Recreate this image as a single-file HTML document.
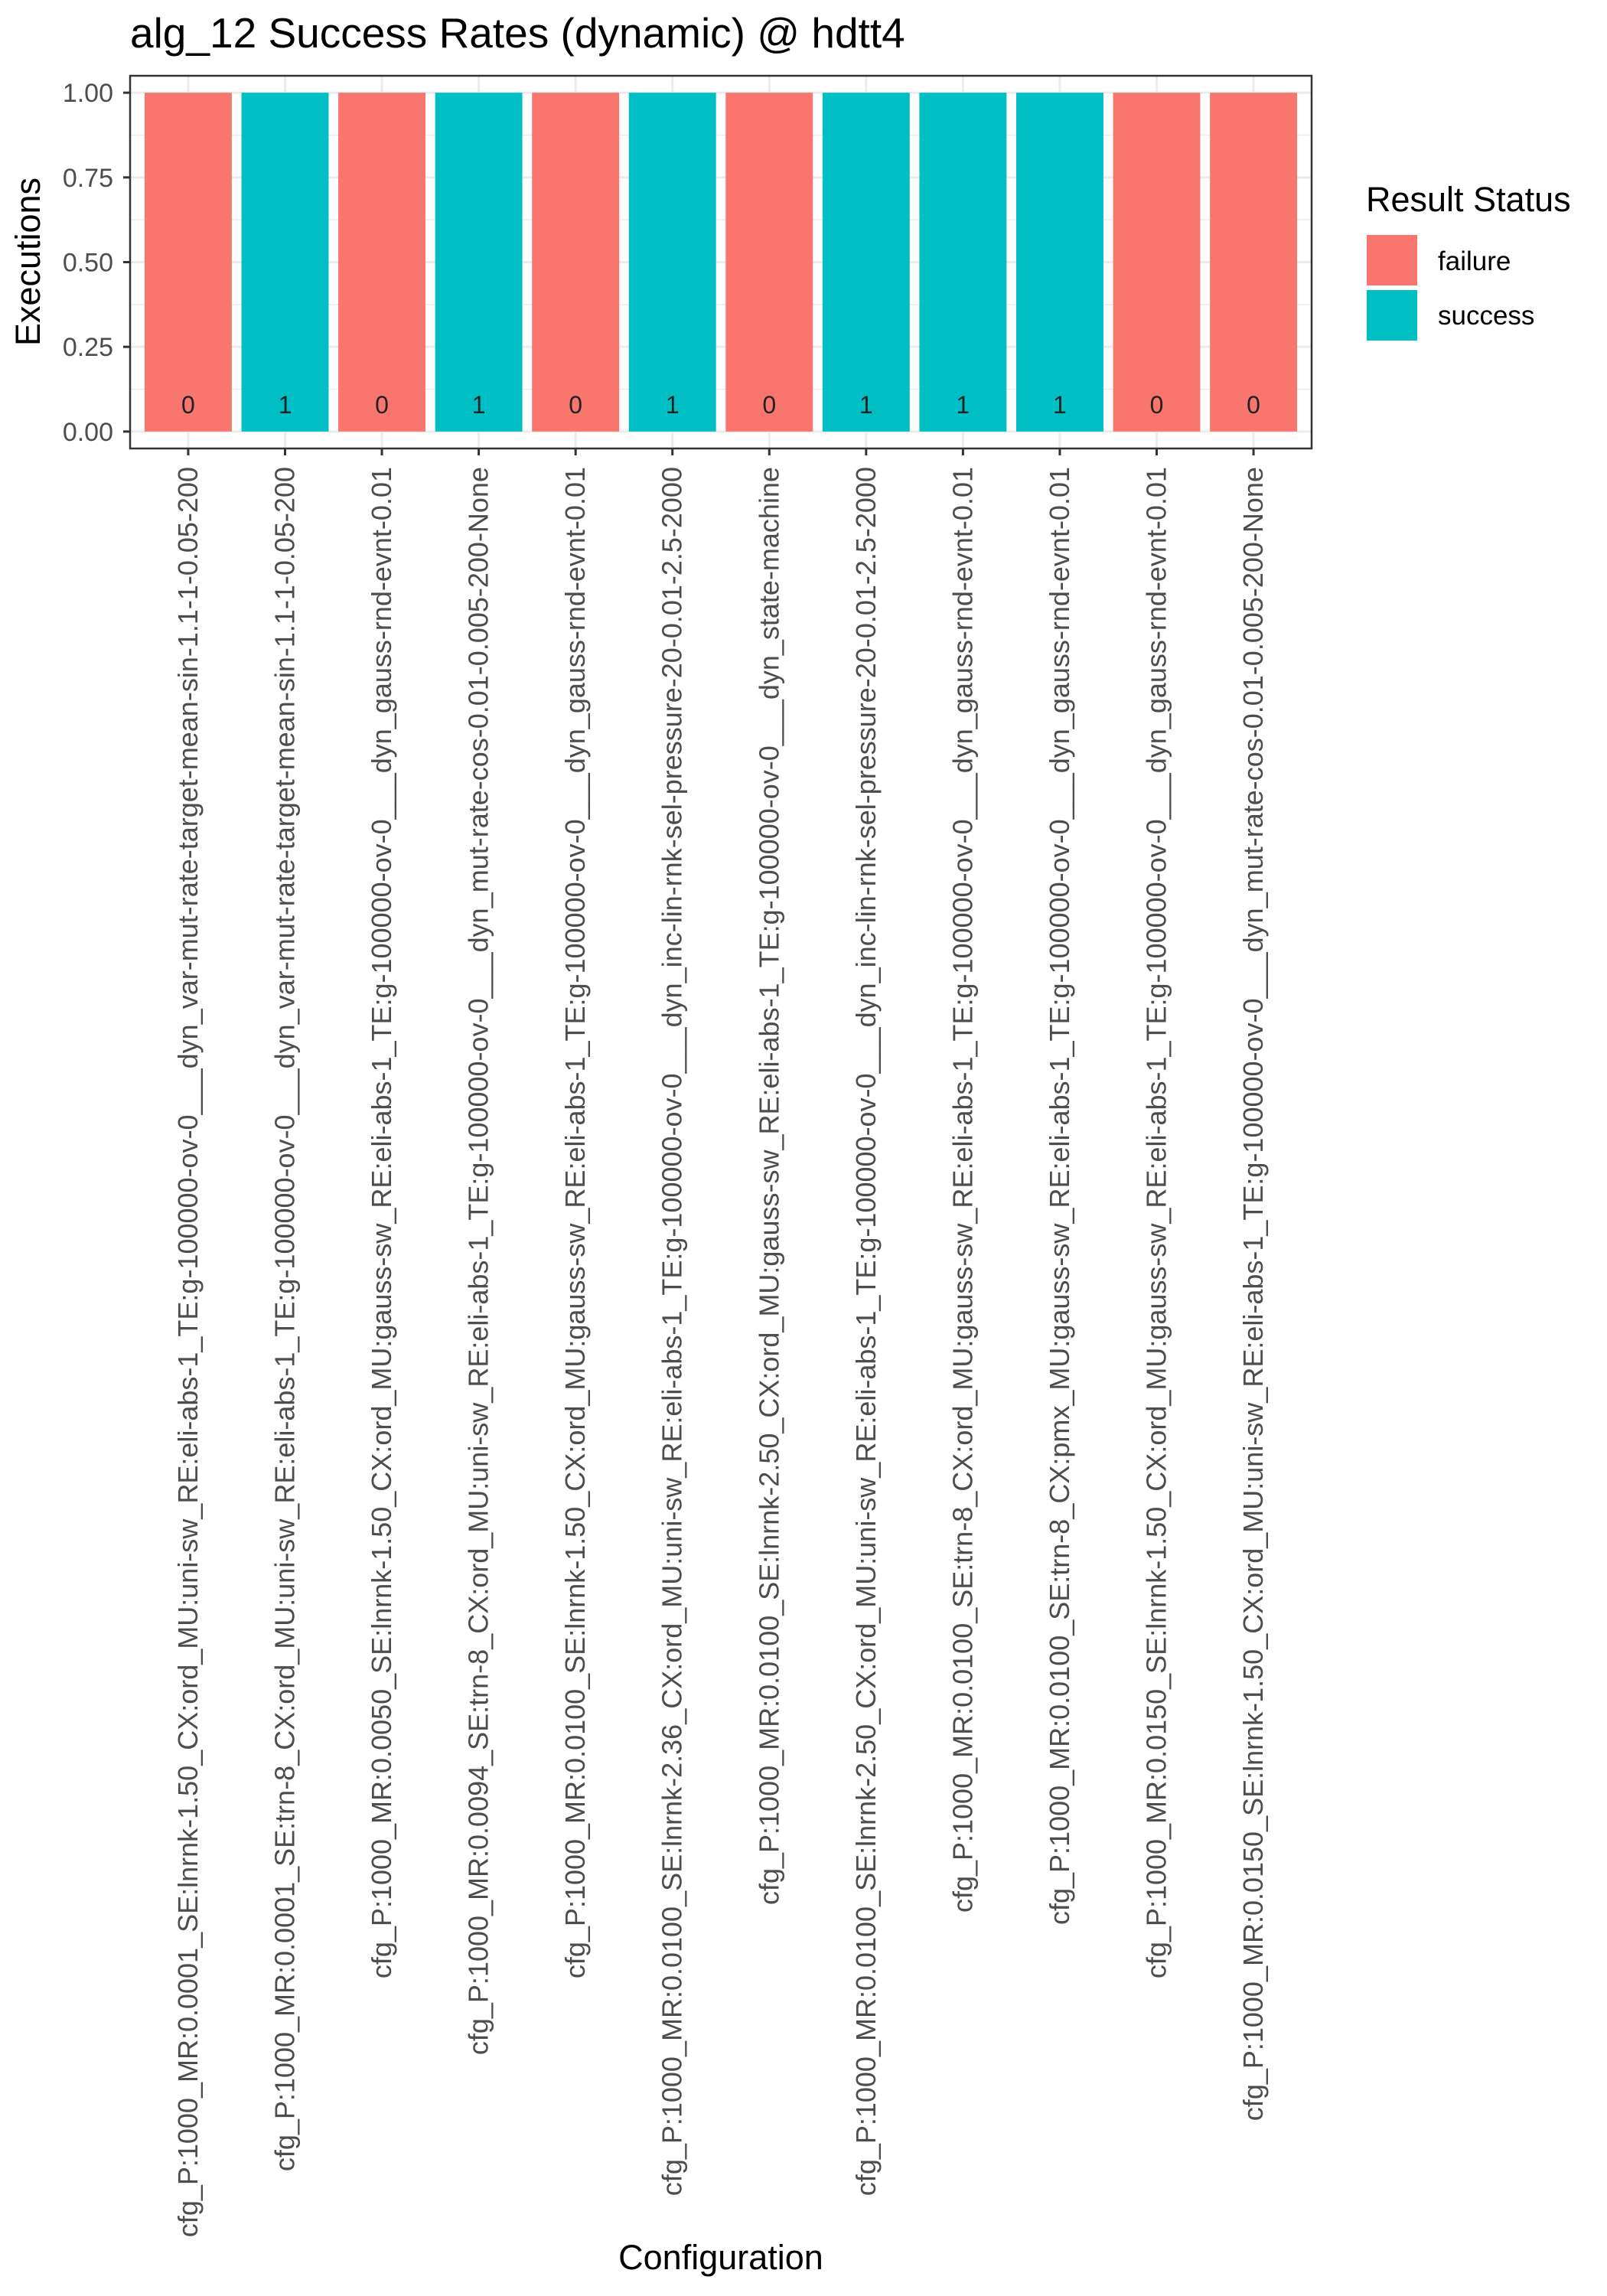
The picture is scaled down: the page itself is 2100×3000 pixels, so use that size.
<!DOCTYPE html>
<html><head><meta charset="utf-8"><style>
html,body{margin:0;padding:0;background:#fff;}
svg{display:block;font-family:"Liberation Sans",Arial,sans-serif;}
</style></head><body>
<svg id="chart" width="2100" height="3000" viewBox="0 0 2100 3000">
<rect x="0" y="0" width="2100" height="3000" fill="#fff"/>
<text x="170" y="62" font-size="55" fill="#000">alg_12 Success Rates (dynamic) @ hdtt4</text>
<g id="grid"></g>
<g id="bars"></g>
<g id="labels"></g>
<rect x="170" y="99" width="1544" height="487" fill="none" stroke="#333" stroke-width="2.5"/>
<g id="yaxis"></g>
<g id="xaxis"></g>
<text transform="translate(52,342) rotate(-90)" text-anchor="middle" font-size="45" fill="#000">Executions</text>
<text x="942" y="2965" text-anchor="middle" font-size="45" fill="#000">Configuration</text>
<g>
<text x="1785" y="276" font-size="45" fill="#000">Result Status</text>
<rect x="1786" y="307" width="66" height="66" fill="#F8766D"/>
<text x="1879" y="353" font-size="35" fill="#000">failure</text>
<rect x="1786" y="379" width="66" height="66" fill="#00BFC4"/>
<text x="1879" y="424" font-size="35" fill="#000">success</text>
</g>
</svg>
<script>
const categories = [
"cfg_P:1000_MR:0.0001_SE:lnrnk-1.50_CX:ord_MU:uni-sw_RE:eli-abs-1_TE:g-100000-ov-0___dyn_var-mut-rate-target-mean-sin-1.1-1-0.05-200",
"cfg_P:1000_MR:0.0001_SE:trn-8_CX:ord_MU:uni-sw_RE:eli-abs-1_TE:g-100000-ov-0___dyn_var-mut-rate-target-mean-sin-1.1-1-0.05-200",
"cfg_P:1000_MR:0.0050_SE:lnrnk-1.50_CX:ord_MU:gauss-sw_RE:eli-abs-1_TE:g-100000-ov-0___dyn_gauss-rnd-evnt-0.01",
"cfg_P:1000_MR:0.0094_SE:trn-8_CX:ord_MU:uni-sw_RE:eli-abs-1_TE:g-100000-ov-0___dyn_mut-rate-cos-0.01-0.005-200-None",
"cfg_P:1000_MR:0.0100_SE:lnrnk-1.50_CX:ord_MU:gauss-sw_RE:eli-abs-1_TE:g-100000-ov-0___dyn_gauss-rnd-evnt-0.01",
"cfg_P:1000_MR:0.0100_SE:lnrnk-2.36_CX:ord_MU:uni-sw_RE:eli-abs-1_TE:g-100000-ov-0___dyn_inc-lin-rnk-sel-pressure-20-0.01-2.5-2000",
"cfg_P:1000_MR:0.0100_SE:lnrnk-2.50_CX:ord_MU:gauss-sw_RE:eli-abs-1_TE:g-100000-ov-0___dyn_state-machine",
"cfg_P:1000_MR:0.0100_SE:lnrnk-2.50_CX:ord_MU:uni-sw_RE:eli-abs-1_TE:g-100000-ov-0___dyn_inc-lin-rnk-sel-pressure-20-0.01-2.5-2000",
"cfg_P:1000_MR:0.0100_SE:trn-8_CX:ord_MU:gauss-sw_RE:eli-abs-1_TE:g-100000-ov-0___dyn_gauss-rnd-evnt-0.01",
"cfg_P:1000_MR:0.0100_SE:trn-8_CX:pmx_MU:gauss-sw_RE:eli-abs-1_TE:g-100000-ov-0___dyn_gauss-rnd-evnt-0.01",
"cfg_P:1000_MR:0.0150_SE:lnrnk-1.50_CX:ord_MU:gauss-sw_RE:eli-abs-1_TE:g-100000-ov-0___dyn_gauss-rnd-evnt-0.01",
"cfg_P:1000_MR:0.0150_SE:lnrnk-1.50_CX:ord_MU:uni-sw_RE:eli-abs-1_TE:g-100000-ov-0___dyn_mut-rate-cos-0.01-0.005-200-None"
];
const executions = [1,1,1,1,1,1,1,1,1,1,1,1];
const successCounts = [0,1,0,1,0,1,0,1,1,1,0,0];
const yTicks = [0,0.25,0.5,0.75,1];
const yTickLabels = ["0.00","0.25","0.50","0.75","1.00"];

const NS = "http://www.w3.org/2000/svg";
const P = {l:170, r:1714, t:99, b:586};
const xMin = 0.4, xMax = categories.length + 0.6;
const yMin = -0.05, yMax = 1.05;
function xs(v){ return P.l + (v - xMin) / (xMax - xMin) * (P.r - P.l); }
function ys(v){ return P.b - (v - yMin) / (yMax - yMin) * (P.b - P.t); }
function mk(tag, attrs, parent){ const e = document.createElementNS(NS, tag); for (const k in attrs) e.setAttribute(k, attrs[k]); parent.appendChild(e); return e; }

const grid = document.getElementById('grid');
for (let i = 0; i < yTicks.length - 1; i++) {
  const m = (yTicks[i] + yTicks[i+1]) / 2;
  const g = mk('line', {x1:P.l, x2:P.r, y1:ys(m), y2:ys(m), stroke:'#ebebeb', 'stroke-width':1.5}, grid);
  
  
}
yTicks.forEach(v => {
  const g = mk('line', {x1:P.l, x2:P.r, y1:ys(v), y2:ys(v), stroke:'#ebebeb', 'stroke-width':3}, grid);
  
  
});
categories.forEach((c, i) => {
  const g = mk('line', {x1:xs(i+1), x2:xs(i+1), y1:P.t, y2:P.b, stroke:'#ebebeb', 'stroke-width':3}, grid);
  
  
});

const bars = document.getElementById('bars');
const labels = document.getElementById('labels');
const bw = 0.9;
categories.forEach((c, i) => {
  const x0 = xs(i + 1 - bw/2), x1 = xs(i + 1 + bw/2);
  const b = mk('rect', {x:x0, y:ys(executions[i]), width:x1 - x0, height:ys(0) - ys(executions[i]), fill: successCounts[i] ? '#00BFC4' : '#F8766D'}, bars);
  
  
  const t = mk('text', {x:xs(i+1), y:ys(0) - 24, 'text-anchor':'middle', 'font-size':32, fill:'#222'}, labels);
  t.textContent = successCounts[i];
  
  
});

const yaxis = document.getElementById('yaxis');
yTicks.forEach((v, i) => {
  const tk = mk('line', {x1:P.l - 9, x2:P.l, y1:ys(v), y2:ys(v), stroke:'#333', 'stroke-width':3}, yaxis);
  
  
  const t = mk('text', {x:P.l - 22, y:ys(v) + 12, 'text-anchor':'end', 'font-size':34, fill:'#4d4d4d'}, yaxis);
  t.textContent = yTickLabels[i];
  
  
});

const xaxis = document.getElementById('xaxis');
categories.forEach((c, i) => {
  const x = xs(i+1);
  const tk = mk('line', {x1:x, x2:x, y1:P.b, y2:P.b + 9, stroke:'#333', 'stroke-width':3}, xaxis);
  
  
  const t = mk('text', {transform:'translate(' + (x + 12) + ',' + (P.b + 24) + ') rotate(-90)', 'text-anchor':'end', 'font-size':36, fill:'#4d4d4d'}, xaxis);
  t.textContent = c;
  
  
});
</script>
</body></html>
